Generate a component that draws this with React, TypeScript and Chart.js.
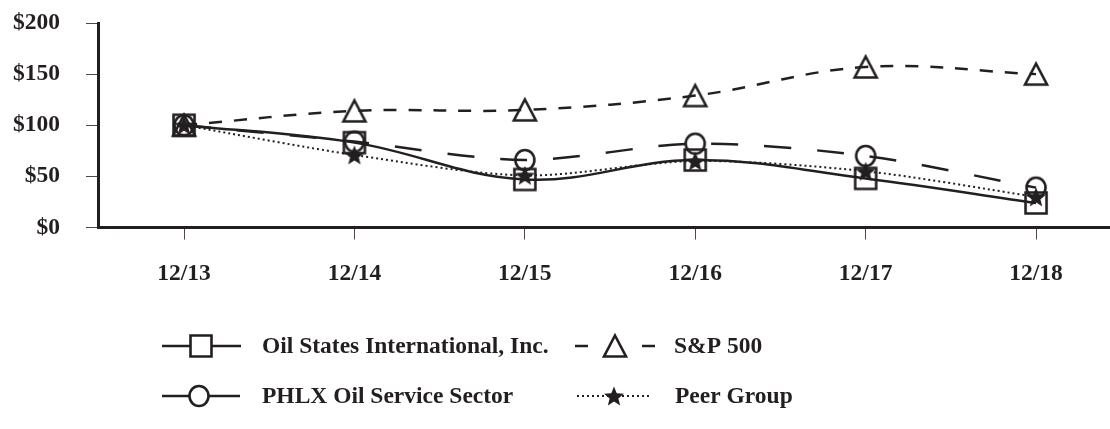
import React, { useEffect, useRef } from "react";
import { Chart, registerables } from "chart.js";

Chart.register(...registerables);

const categories = ["12/13", "12/14", "12/15", "12/16", "12/17", "12/18"];
const oilStates = [100, 83, 47, 66, 48, 24];
const sp500 = [100, 114, 115, 129, 157, 150];
const phlx = [100, 84, 66, 82, 70, 39];
const peerGroup = [100, 71, 51, 65, 55, 30];
const yTicks = [0, 50, 100, 150, 200];
const seriesNames = [
  "Oil States International, Inc.",
  "S&P 500",
  "PHLX Oil Service Sector",
  "Peer Group",
];

const INK = "#231f20";
const FONT_FAMILY = "'Liberation Serif', 'Times New Roman', serif";
const FONT_SIZE = 23.5;

function makeMarker(kind: string, fill: string): HTMLCanvasElement {
  const c = document.createElement("canvas");
  const s = 30;
  c.width = s;
  c.height = s;
  const ctx = c.getContext("2d")!;
  const cx = s / 2;
  const cy = s / 2;
  ctx.strokeStyle = INK;
  ctx.fillStyle = fill;
  ctx.lineWidth = 2.6;
  ctx.lineJoin = "miter";
  ctx.beginPath();
  if (kind === "square") {
    ctx.rect(cx - 10.5, cy - 10.5, 21, 21);
  } else if (kind === "circle") {
    ctx.ellipse(cx, cy, 9.5, 10, 0, 0, Math.PI * 2);
  } else if (kind === "triangle") {
    ctx.moveTo(cx, cy - 10.5);
    ctx.lineTo(cx + 11, cy + 10.5);
    ctx.lineTo(cx - 11, cy + 10.5);
    ctx.closePath();
  } else if (kind === "star") {
    const R = 10.5;
    const r = 4.6;
    for (let i = 0; i < 10; i++) {
      const rad = i % 2 === 0 ? R : r;
      const a = -Math.PI / 2 + (i * Math.PI) / 5;
      const px = cx + Math.cos(a) * rad;
      const py = cy + 1 + Math.sin(a) * rad;
      if (i === 0) ctx.moveTo(px, py);
      else ctx.lineTo(px, py);
    }
    ctx.closePath();
    ctx.fillStyle = INK;
    ctx.fill();
    return c;
  }
  if (fill !== "transparent") ctx.fill();
  ctx.stroke();
  return c;
}

const legendPlugin = {
  id: "customLegend",
  afterDraw(chart: any) {
    const ctx = chart.ctx as CanvasRenderingContext2D;
    const font = `bold ${FONT_SIZE}px ${FONT_FAMILY}`;
    const rows = [346, 396];
    const drawSeg = (x1: number, x2: number, y: number, dash: number[], w: number) => {
      ctx.save();
      ctx.strokeStyle = INK;
      ctx.lineWidth = w;
      ctx.setLineDash(dash);
      ctx.beginPath();
      ctx.moveTo(x1, y);
      ctx.lineTo(x2, y);
      ctx.stroke();
      ctx.restore();
    };
    const drawMark = (kind: string, x: number, y: number) => {
      const m = makeMarker(kind, "#ffffff");
      ctx.drawImage(m, x - m.width / 2, y - m.height / 2);
    };
    const drawText = (t: string, x: number, y: number) => {
      ctx.save();
      ctx.font = font;
      ctx.fillStyle = INK;
      ctx.textAlign = "left";
      ctx.textBaseline = "middle";
      ctx.fillText(t, x, y);
      ctx.restore();
    };
    // Row 1
    drawSeg(162, 241, rows[0], [], 2.5);
    drawMark("square", 201, rows[0]);
    drawText(seriesNames[0], 262, rows[0] + 1);
    drawSeg(575, 588, rows[0], [], 2.5);
    drawSeg(642, 655, rows[0], [], 2.5);
    drawMark("triangle", 615, rows[0]);
    drawText(seriesNames[1], 674, rows[0] + 1);
    // Row 2
    drawSeg(162, 240, rows[1], [], 2.5);
    drawMark("circle", 199, rows[1]);
    drawText(seriesNames[2], 262, rows[1] + 1);
    drawSeg(577, 652, rows[1], [2, 3], 2);
    drawMark("star", 614, rows[1]);
    drawText(seriesNames[3], 675, rows[1] + 1);
  },
};

export default function App() {
  const ref = useRef<HTMLCanvasElement | null>(null);

  useEffect(() => {
    document.body.style.margin = "0";
    const canvas = ref.current;
    if (!canvas) return;
    const toPts = (arr: number[]) => arr.map((v, i) => ({ x: i, y: v }));
    const font = { family: FONT_FAMILY, size: FONT_SIZE, weight: "bold" as const };
    const noPad = (s: any) => {
      s.paddingTop = 0;
      s.paddingBottom = 0;
      s.paddingLeft = 0;
      s.paddingRight = 0;
    };

    const chart = new Chart(canvas, {
      type: "line",
      data: {
        datasets: [
          {
            label: seriesNames[0],
            data: toPts(oilStates),
            borderColor: INK,
            borderWidth: 2.5,
            tension: 0.38,
            pointStyle: makeMarker("square", "transparent"),
            pointRadius: 11,
            order: 1,
          },
          {
            label: seriesNames[1],
            data: toPts(sp500),
            borderColor: INK,
            borderWidth: 2.5,
            borderDash: [13, 12],
            tension: 0.38,
            pointStyle: makeMarker("triangle", "transparent"),
            pointRadius: 11,
            order: 3,
          },
          {
            label: seriesNames[2],
            data: toPts(phlx),
            borderColor: INK,
            borderWidth: 2.5,
            borderDash: [27, 26],
            tension: 0.3,
            pointStyle: makeMarker("circle", "transparent"),
            pointRadius: 11,
            order: 2,
          },
          {
            label: seriesNames[3],
            data: toPts(peerGroup),
            borderColor: INK,
            borderWidth: 2,
            borderDash: [2, 3],
            tension: 0.3,
            pointStyle: makeMarker("star", INK),
            pointRadius: 11,
            order: 0,
          },
        ],
      },
      options: {
        responsive: false,
        animation: false,
        events: [],
        layout: { autoPadding: false, padding: { top: 23, right: 0, bottom: 141.5, left: 0 } },
        plugins: {
          legend: { display: false },
          tooltip: { enabled: false },
        },
        scales: {
          x: {
            type: "linear",
            min: -0.5047,
            max: 5.434,
            afterBuildTicks: (s: any) => {
              s.ticks = categories.map((_, i) => ({ value: i }));
            },
            afterFit: (s: any) => {
              s.height = 60;
              noPad(s);
            },
            ticks: {
              callback: (v: any) => categories[v] ?? "",
              font,
              color: INK,
              padding: 20,
              maxRotation: 0,
              autoSkip: false,
            },
            grid: { drawOnChartArea: false, tickLength: 12, color: "#4a4a4a", lineWidth: 1 },
            border: { display: true, width: 3, color: INK },
          },
          y: {
            min: 0,
            max: 200,
            afterBuildTicks: (s: any) => {
              s.ticks = yTicks.map((v) => ({ value: v }));
            },
            afterFit: (s: any) => {
              s.width = 98;
              noPad(s);
            },
            ticks: {
              callback: (v: any) => "$" + v,
              font,
              color: INK,
              padding: 26,
            },
            grid: { drawOnChartArea: false, tickLength: 12, color: "#4a4a4a", lineWidth: 1 },
            border: { display: true, width: 3, color: INK },
          },
        },
      },
      plugins: [legendPlugin],
    });
    return () => chart.destroy();
  }, []);

  return (
    <div style={{ width: 1110, height: 429, background: "#fff" }}>
      <canvas ref={ref} width={1110} height={429} style={{ display: "block" }} />
    </div>
  );
}
